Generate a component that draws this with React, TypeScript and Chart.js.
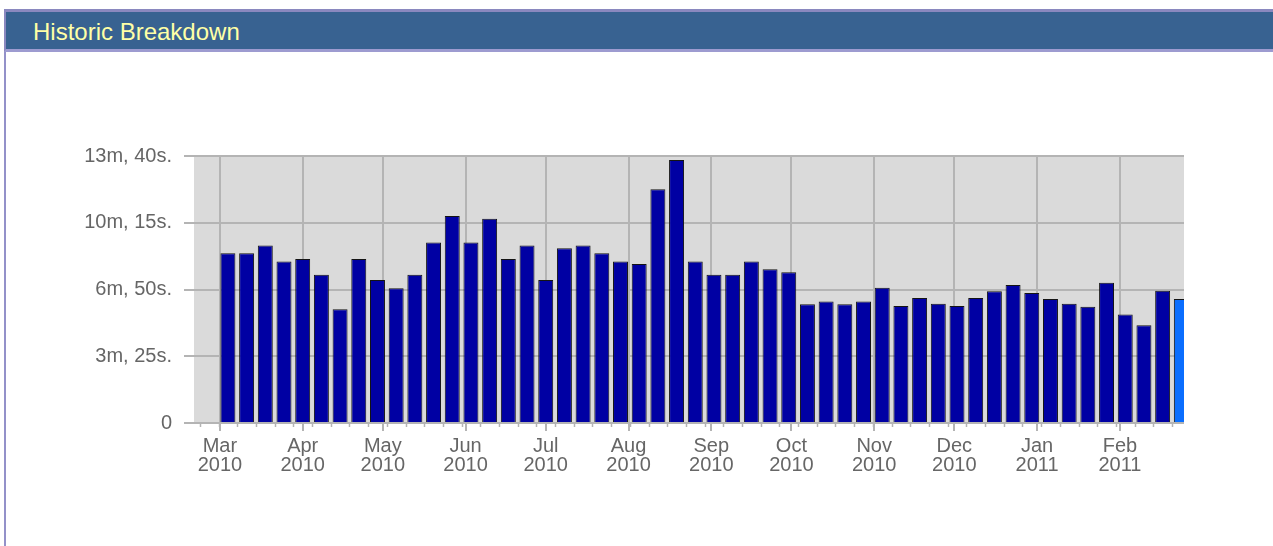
import React, { useEffect, useRef } from "react";
import { Chart, registerables } from "chart.js";

Chart.register(...registerables);

// Weekly average values in seconds, one bar per week starting Mar 1 2010
const weekValues = [
  521, 521, 545, 496, 504, 455, 349, 504, 439, 414,
  455, 554, 636, 554, 627, 504, 545, 439, 537, 545,
  521, 496, 488, 718, 808, 496, 455, 455, 496, 472,
  463, 365, 373, 365, 373, 415, 359, 384, 366, 359,
  384, 405, 424, 399, 381, 366, 357, 431, 333, 300,
  406, 381,
];
// day offsets (from Mar 1 2010) of month starts, and their labels
const monthDays = [0, 31, 61, 92, 122, 153, 184, 214, 245, 275, 306, 337];
const monthNames = ["Mar", "Apr", "May", "Jun", "Jul", "Aug", "Sep", "Oct", "Nov", "Dec", "Jan", "Feb"];
const monthYears = ["2010", "2010", "2010", "2010", "2010", "2010", "2010", "2010", "2010", "2010", "2011", "2011"];
const yTickValues = [0, 205, 410, 615, 820];
const xRange = [-9.7, 361];

const FONT = "'Liberation Sans', Arial, Helvetica, sans-serif";
const GRID = "#b4b4b4";

function fmt(v: number): string {
  if (v === 0) return "0";
  const m = Math.floor(v / 60);
  const s = Math.round(v - m * 60);
  return `${m}m, ${s}s.`;
}

const plotBg = {
  id: "plotBg",
  beforeDraw(chart: any) {
    const { ctx, chartArea } = chart;
    ctx.save();
    ctx.fillStyle = "#dadada";
    ctx.fillRect(chartArea.left, chartArea.top, chartArea.right - chartArea.left, chartArea.bottom - chartArea.top);
    ctx.restore();
  },
};

const minorTicks = {
  id: "minorTicks",
  afterDraw(chart: any) {
    const { ctx, chartArea } = chart;
    const xs = chart.scales.x;
    ctx.save();
    ctx.strokeStyle = GRID;
    ctx.lineWidth = 1.5;
    for (let i = -2; i <= weekValues.length + 1; i++) {
      const d = 7 * i - 0.5;
      if (d < xs.min || d > xs.max) continue;
      const px = Math.round(xs.getPixelForValue(d)) + 0.5;
      ctx.beginPath();
      ctx.moveTo(px, chartArea.bottom);
      ctx.lineTo(px, chartArea.bottom + 4);
      ctx.stroke();
    }
    ctx.restore();
  },
};

export default function App() {
  const ref = useRef<HTMLCanvasElement | null>(null);

  useEffect(() => {
    if (!ref.current) return;
    const data = weekValues.map((v, i) => ({ x: 7 * i + 3, y: v }));
    const colors = weekValues.map((_, i) => (i === weekValues.length - 1 ? "#0a6eff" : "#0000a3"));
    const chart = new Chart(ref.current, {
      type: "bar",
      data: {
        datasets: [
          {
            data: data as any,
            backgroundColor: colors,
            borderColor: "#141414",
            borderWidth: 1,
            categoryPercentage: 1,
            barPercentage: 0.8,
            clip: 0 as any,
          },
        ],
      },
      options: {
        animation: false,
        responsive: false,
        events: [],
        layout: { padding: { top: 156, right: 89, bottom: 0, left: 0 } },
        plugins: { legend: { display: false }, tooltip: { enabled: false } },
        scales: {
          x: {
            type: "linear",
            offset: false,
            min: xRange[0],
            max: xRange[1],
            afterBuildTicks: (s: any) => {
              s.ticks = monthDays.map((v) => ({ value: v }));
            },
            afterFit: (s: any) => {
              s.height = 123;
            },
            grid: { offset: false, color: GRID, lineWidth: 2, tickLength: 8, tickColor: GRID },
            border: { display: false },
            ticks: {
              autoSkip: false,
              maxRotation: 0,
              padding: 6,
              color: "#666666",
              font: { family: FONT, size: 20, lineHeight: 0.95 },
              callback: (_v: any, i: number) => [monthNames[i], monthYears[i]],
            },
          },
          y: {
            min: 0,
            max: 820,
            afterBuildTicks: (s: any) => {
              s.ticks = yTickValues.map((v) => ({ value: v }));
            },
            afterFit: (s: any) => {
              s.width = 194;
            },
            grid: { color: GRID, lineWidth: 2, tickLength: 10, tickColor: GRID },
            border: { display: false },
            ticks: {
              padding: 12,
              color: "#666666",
              font: { family: FONT, size: 20 },
              callback: (v: any) => fmt(Number(v)),
            },
          },
        },
      },
      plugins: [plotBg, minorTicks],
    });
    return () => chart.destroy();
  }, []);

  return (
    <div style={{ position: "absolute", left: 0, top: 0, width: 1273, height: 546, overflow: "hidden", background: "#fff" }}>
      <div
        style={{
          position: "absolute",
          left: 4,
          top: 9,
          width: 2,
          height: 546,
          background: "#9391c9",
        }}
      />
      <div
        style={{
          position: "absolute",
          left: 4,
          top: 9,
          width: 1269,
          height: 43,
          boxSizing: "border-box",
          borderTop: "3px solid #8a88bf",
          borderBottom: "3px solid #9d9bd0",
          borderLeft: "2px solid #8a88bf",
          background: "#386291",
        }}
      />
      <div
        style={{
          position: "absolute",
          left: 33,
          top: 20,
          fontFamily: FONT,
          fontSize: 24,
          lineHeight: "24px",
          color: "#ffffa6",
          whiteSpace: "nowrap",
        }}
      >
        Historic Breakdown
      </div>
      <canvas
        ref={ref}
        width={1273}
        height={546}
        style={{ position: "absolute", left: 0, top: 0, display: "block" }}
      />
    </div>
  );
}
